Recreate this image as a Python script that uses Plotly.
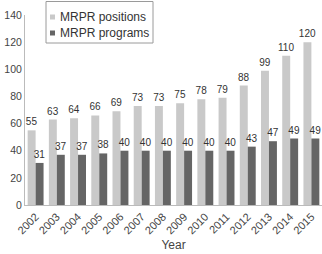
import plotly.graph_objects as go

years = [str(y) for y in range(2002, 2016)]
positions = [55, 63, 64, 66, 69, 73, 73, 75, 78, 79, 88, 99, 110, 120]
programs = [31, 37, 37, 38, 40, 40, 40, 40, 40, 40, 43, 47, 49, 49]
names = ["MRPR positions", "MRPR programs"]
colors = ["#c9c9c9", "#656565"]
FONT = "Liberation Sans, Arial, sans-serif"

fig = go.Figure()
for name, vals, col in zip(names, [positions, programs], colors):
    fig.add_trace(go.Bar(
        x=years, y=vals, name=name, marker_color=col, marker_line_width=0,
        text=vals, textposition="outside", cliponaxis=False,
        constraintext="none",
        textfont=dict(size=10, color="#333333", family=FONT),
        showlegend=False,
    ))

# legend drawn as box + squares + labels
shapes = [dict(type="rect", xref="paper", yref="paper",
               x0=(46 - 25) / 297, x1=(153 - 25) / 297,
               y0=(205 - 43) / 190, y1=(205 - 1.5) / 190,
               line=dict(color="#9a9a9a", width=1), fillcolor="white")]
annotations = []
for i, (name, col) in enumerate(zip(names, colors)):
    cy = 17 + 16 * i
    shapes.append(dict(type="rect", xref="paper", yref="paper",
                       x0=(50 - 25) / 297, x1=(55 - 25) / 297,
                       y0=(205 - cy - 2.5) / 190, y1=(205 - cy + 2.5) / 190,
                       line=dict(width=0), fillcolor=col))
    annotations.append(dict(text=name, xref="paper", yref="paper",
                            x=(57.5 - 25) / 297, y=(205 - cy) / 190,
                            xanchor="left", yanchor="middle", showarrow=False,
                            font=dict(size=12, color="#333333", family=FONT)))

fig.update_layout(
    width=322, height=254,
    margin=dict(l=25, r=0, t=15, b=49),
    paper_bgcolor="white", plot_bgcolor="white",
    barmode="group", bargap=0.25, bargroupgap=0,
    font=dict(family=FONT, size=10, color="#444444"),
    shapes=shapes, annotations=annotations,
    xaxis=dict(tickangle=-45, showline=True, linecolor="#bbbbbb", linewidth=1,
               ticks="", showgrid=False,
               tickfont=dict(size=11, color="#444444"),
               title=dict(text="Year", font=dict(size=12, color="#444444"), standoff=5)),
    yaxis=dict(range=[0, 140], dtick=20, showline=True, linecolor="#bbbbbb",
               linewidth=1, ticks="", showgrid=False, zeroline=False,
               tickfont=dict(size=10.5, color="#444444")),
)

fig.write_html("out.html")
